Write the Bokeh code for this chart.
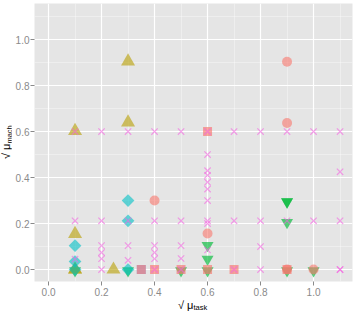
import math
from bokeh.plotting import figure
from bokeh.models import FixedTicker, Div
from bokeh.layouts import column, row
from bokeh.embed import file_html
from bokeh.resources import INLINE

# ---- data ----
tri_x = [0.3, 0.3, 0.1, 0.1, 0.1, 0.1, 0.245]
tri_y = [0.905, 0.64, 0.603, 0.155, 0.0, 0.0, 0.0]

circ_x = [0.9, 0.9, 0.4, 0.6, 0.9, 1.0]
circ_y = [0.904, 0.637, 0.3, 0.157, 0.0, 0.0]

sq_x = [0.6, 0.35, 0.4, 0.5, 0.6, 0.7, 0.9]
sq_y = [0.6, 0.0, 0.0, 0.0, 0.0, 0.0, 0.0]

sqb_x = [0.35]
sqb_y = [0.0]

dia_x = [0.3, 0.3, 0.1, 0.1, 0.1, 0.3]
dia_y = [0.3, 0.212, 0.104, 0.035, 0.0, 0.0]

inv_x = [0.9, 0.9, 0.9, 0.6, 0.6, 0.6, 0.5, 0.3, 0.1, 1.0, 0.9]
inv_y = [0.295, 0.295, 0.205, 0.105, 0.045, -0.005, -0.005, -0.005, -0.005, -0.005, -0.005]

cross_x = ([0.1, 0.2, 0.3, 0.4, 0.5, 0.6, 0.7, 0.8, 0.9, 1.0, 1.1] +
           [0.1, 0.2, 0.3, 0.4, 0.5, 0.6, 0.7, 0.8, 0.9, 1.0, 1.1] +
           [0.6, 0.6, 0.6, 0.6, 0.6, 0.6, 0.6, 0.6] +
           [1.1] +
           [0.2, 0.2, 0.2, 0.2, 0.4, 0.4, 0.4, 0.4, 0.3, 0.3,
            0.5, 0.5, 0.5, 0.8, 0.8, 0.7, 1.1, 1.1, 0.1])
cross_y = ([0.6] * 11 +
           [0.212] * 11 +
           [0.5, 0.43, 0.41, 0.38, 0.35, 0.3, 0.2, 0.085] +
           [0.425] +
           [0.104, 0.074, 0.047, 0.0, 0.104, 0.074, 0.047, 0.0, 0.104, 0.04,
            0.104, 0.048, 0.0, 0.1, 0.0, 0.0, 0.0, 0.0, 0.045])

x_ticks = [0.0, 0.2, 0.4, 0.6, 0.8, 1.0]
y_ticks = [0.0, 0.2, 0.4, 0.6, 0.8, 1.0]
minor = [0.1, 0.3, 0.5, 0.7, 0.9, 1.1]

x_label_main, x_label_sub = "√ μ", "task"
y_label_main, y_label_sub = "√ μ", "mach"

XS, XE = -0.053, 1.147
YS, YE = -0.052, 1.157

YLAB_W = 11
PLOT_H = 300

p = figure(width=355 - YLAB_W, height=PLOT_H, x_range=(XS, XE), y_range=(YS, YE),
           output_backend="svg", toolbar_location=None,
           min_border_left=34 - YLAB_W, min_border_right=3,
           min_border_top=3, min_border_bottom=PLOT_H - 281)
p.background_fill_color = "#E5E5E5"
p.border_fill_color = "white"
p.outline_line_color = None

for ax, ticks in ((p.xaxis, x_ticks), (p.yaxis, y_ticks)):
    ax.ticker = FixedTicker(ticks=ticks, minor_ticks=minor)
    ax.axis_line_color = None
    ax.major_tick_line_color = "#8A8A8A"
    ax.major_tick_out = 4
    ax.major_tick_in = 0
    ax.minor_tick_line_color = None
    ax.major_label_text_color = "#8A8A8A"
    ax.major_label_text_font = "Liberation Sans"
    ax.major_label_text_font_size = "10px"
p.xaxis.major_label_standoff = 2
p.yaxis.major_label_standoff = 1
p.xaxis.major_label_overrides = {t: f"{t:.1f}" for t in x_ticks}
p.yaxis.major_label_overrides = {t: f"{t:.1f}" for t in y_ticks}

for g in (p.xgrid, p.ygrid):
    g.grid_line_color = "white"
    g.grid_line_width = 1.2
    g.minor_grid_line_color = "white"
    g.minor_grid_line_alpha = 0.6
    g.minor_grid_line_width = 0.6

# ---- marks ----
p.scatter(inv_x, inv_y, marker="inverted_triangle", size=12,
          fill_color="#00BA38", fill_alpha=0.65, line_color=None)
p.scatter(tri_x, tri_y, marker="triangle", size=14,
          fill_color="#B79F00", fill_alpha=0.6, line_color=None)
p.scatter(dia_x, dia_y, marker="square", angle=math.pi / 4, size=9,
          fill_color="#00BFC4", fill_alpha=0.6, line_color=None)
p.scatter(circ_x, circ_y, marker="circle", size=10,
          fill_color="#F8766D", fill_alpha=0.6, line_color=None)
p.scatter(sqb_x, sqb_y, marker="square", size=9,
          fill_color="#619CFF", fill_alpha=0.6, line_color=None)
p.scatter(sq_x, sq_y, marker="square", size=9,
          fill_color="#F8766D", fill_alpha=0.65, line_color=None)
p.scatter(cross_x, cross_y, marker="x", size=9,
          line_color="#F564E3", line_alpha=0.6, line_width=1.2)

# ---- axis labels with subscripts (HTML) ----
font = "font-family:'Liberation Sans',sans-serif;font-size:11px;line-height:11px;color:black;"
sub_x = "font-size:7.5px;vertical-align:-1px;line-height:0;"
sub_y = "font-size:7.5px;vertical-align:-2px;line-height:0;"

XLAB_H = 311 - PLOT_H
xlab = Div(width=355, height=XLAB_H, margin=0, styles={"overflow": "visible"}, text=(
    f'<div style="position:relative;width:355px;height:{XLAB_H}px;">'
    f'<div style="position:absolute;left:178px;top:-1.5px;white-space:nowrap;{font}">'
    f'{x_label_main}<sub style="{sub_x}">{x_label_sub}</sub></div></div>'))

ylab = Div(width=YLAB_W, height=PLOT_H, margin=0, styles={"overflow": "visible"}, text=(
    f'<div style="position:relative;width:{YLAB_W}px;height:{PLOT_H}px;">'
    f'<div style="position:absolute;left:0.7px;top:159px;white-space:nowrap;'
    f'transform:rotate(-90deg);transform-origin:0 0;{font}">'
    f'{y_label_main}<sub style="{sub_y}">{y_label_sub}</sub></div></div>'))

layout = column(row(ylab, p, spacing=0), xlab, spacing=0)

open("out.html", "w").write(file_html(layout, INLINE))
